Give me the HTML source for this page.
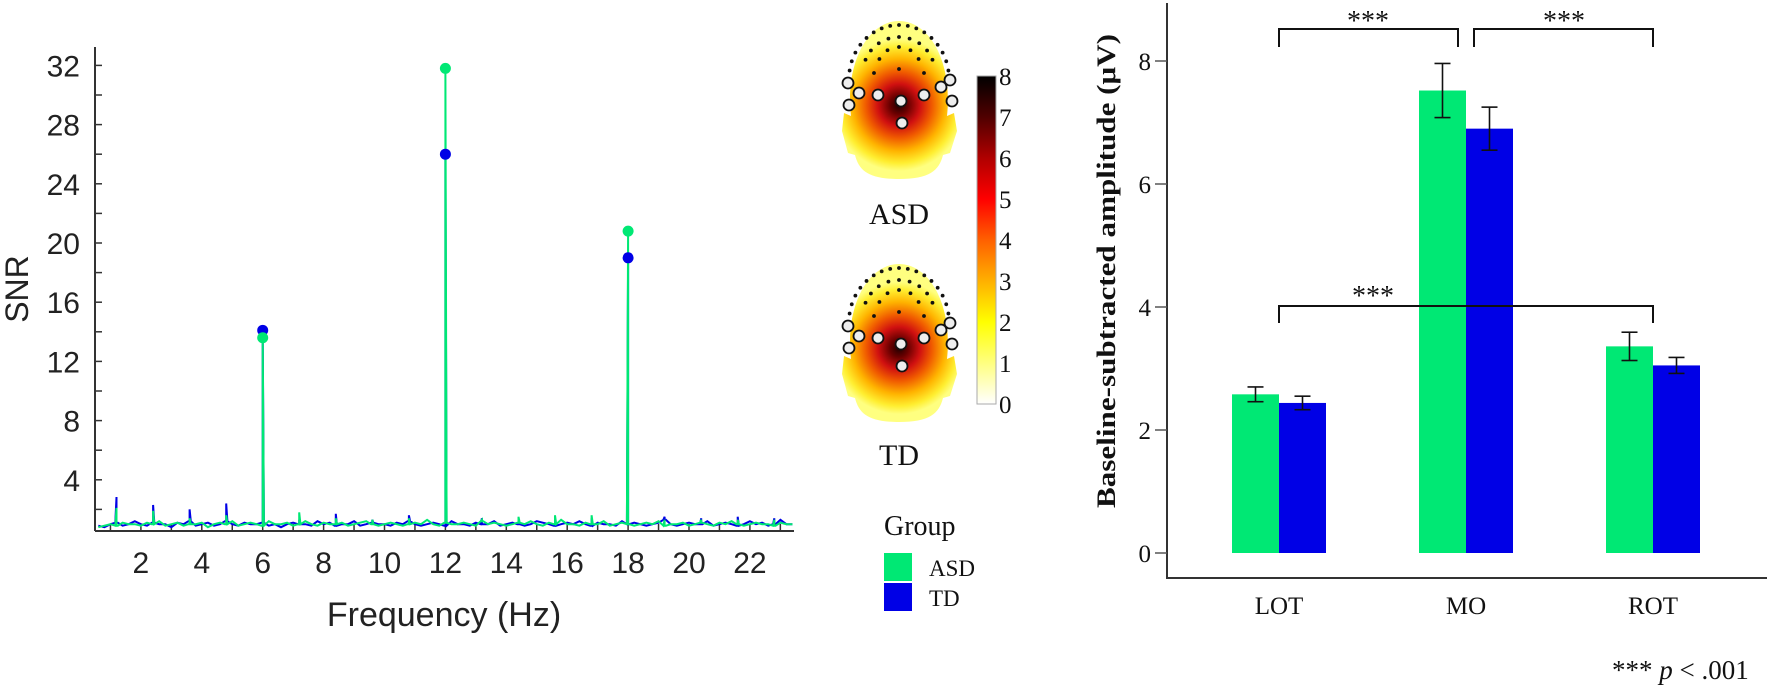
<!DOCTYPE html>
<html><head><meta charset="utf-8"><style>
html,body{margin:0;padding:0;background:#fff;}
svg{display:block;}
.sans{font-family:"Liberation Sans",Arial,sans-serif;}
.serif{font-family:"Liberation Serif","DejaVu Serif",serif;}
</style></head><body>
<svg id="fig" width="1772" height="686" viewBox="0 0 1772 686" xmlns="http://www.w3.org/2000/svg">
<defs>
<radialGradient id="headGrad" cx="60" cy="84" r="66" gradientUnits="userSpaceOnUse">
<stop offset="0" stop-color="#200000"/>
<stop offset="0.14" stop-color="#6a0000"/>
<stop offset="0.32" stop-color="#d01010"/>
<stop offset="0.5" stop-color="#f05a00"/>
<stop offset="0.7" stop-color="#ffb400"/>
<stop offset="0.88" stop-color="#ffee30"/>
<stop offset="1" stop-color="#ffff80"/>
</radialGradient>
<linearGradient id="cbGrad" x1="0" y1="1" x2="0" y2="0">
<stop offset="0" stop-color="#ffffff"/>
<stop offset="0.125" stop-color="#ffff80"/>
<stop offset="0.25" stop-color="#ffff00"/>
<stop offset="0.375" stop-color="#ffb000"/>
<stop offset="0.5" stop-color="#ff6000"/>
<stop offset="0.625" stop-color="#ff0000"/>
<stop offset="0.75" stop-color="#b00000"/>
<stop offset="0.875" stop-color="#500000"/>
<stop offset="1" stop-color="#000000"/>
</linearGradient>
</defs>
<g id="left"></g>
<g id="topo"></g>
<g id="right"></g>
</svg>
<script>
// ---------- Left chart data ----------
const noiseStart = 0.6, noiseStep = 0.2;
const asdNoise = [0.8,0.9,1.0,0.9,1.1,1.0,1.0,0.9,1.1,1.0,1.2,0.9,1.0,1.1,0.9,1.0,1.0,1.1,0.8,1.0,1.1,1.0,1.2,0.9,1.0,1.1,1.0,0.9,1.2,1.0,1.0,1.1,0.9,1.0,1.2,1.0,0.9,1.1,1.0,1.0,1.1,0.9,1.0,1.1,1.2,1.0,0.9,1.0,1.1,1.0,0.9,1.0,1.1,1.0,1.3,1.0,0.9,1.1,1.0,1.0,1.1,1.0,0.9,1.2,1.0,1.1,1.0,0.9,1.0,1.1,1.0,1.2,1.0,0.9,1.1,1.0,1.3,1.0,1.0,0.9,1.1,1.0,1.0,1.2,0.9,1.0,1.1,1.0,0.9,1.0,1.1,1.0,1.2,0.9,1.0,1.0,1.1,0.9,1.0,1.1,1.0,0.9,1.1,1.0,1.2,1.0,0.9,1.0,1.1,1.0,1.0,0.9,1.1,1.0,1.0];
const tdNoise = [0.9,0.8,1.0,1.1,0.9,1.0,1.2,1.0,0.9,1.1,1.0,1.0,0.8,1.1,1.0,1.2,0.9,1.0,1.1,0.9,1.0,1.2,1.0,0.9,1.1,1.0,1.0,1.1,0.9,1.0,0.8,1.0,1.1,1.0,1.0,0.9,1.2,1.0,1.1,0.9,1.0,1.0,1.2,0.9,1.0,1.1,1.0,1.0,0.9,1.1,1.0,1.2,1.0,0.9,1.0,1.1,1.0,0.9,1.2,1.0,1.0,0.9,1.1,1.0,1.0,1.2,0.9,1.0,1.1,1.0,0.9,1.0,1.2,1.1,1.0,0.9,1.0,1.1,1.0,1.2,1.0,0.9,1.1,1.0,1.0,0.9,1.2,1.0,1.1,1.0,0.9,1.0,1.1,1.3,1.0,0.9,1.0,1.1,1.0,1.0,1.2,0.9,1.0,1.1,1.0,0.9,1.0,1.2,1.0,1.1,0.9,1.0,1.3,1.0,1.0];
const harmFreqs = [1.2,2.4,3.6,4.8,6.0,7.2,8.4,9.6,10.8,12.0,13.2,14.4,15.6,16.8,18.0,19.2,20.4,21.6,22.8];
const asdHarm = [2.1,1.9,1.4,1.6,13.6,1.8,1.4,1.3,1.4,31.8,1.3,1.5,1.6,1.6,20.8,1.3,1.3,1.3,1.3];
const tdHarm  = [2.84,2.3,2.0,2.4,14.1,1.3,1.7,1.3,1.6,26.0,1.4,1.3,1.3,1.4,19.0,1.5,1.4,1.5,1.4];
const markerFreqs = [6,12,18];
const xTickLabels = [2,4,6,8,10,12,14,16,18,20,22];
const yTickLabels = [4,8,12,16,20,24,28,32];

// ---------- Right chart data ----------
const regions = ['LOT','MO','ROT'];
const asdMeans = [2.58,7.52,3.36];
const asdErr = [0.12,0.44,0.23];
const tdMeans = [2.44,6.90,3.05];
const tdErr = [0.11,0.35,0.13];
const ampTicks = [0,2,4,6,8];
const colorbarTicks = [0,1,2,3,4,5,6,7,8];

const NS='http://www.w3.org/2000/svg';
function mk(tag, attrs, parent, text){
  const e=document.createElementNS(NS,tag);
  for(const k in attrs) e.setAttribute(k,attrs[k]);
  if(text!==undefined) e.textContent=text;
  parent.appendChild(e); return e;
}
const GREEN='#00e874', BLUE='#0000e6';

// ===== Left chart =====
(function(){
  const g=document.getElementById('left');
  const fx=f=>80+30.45*f;
  const fy=v=>539-14.8*v;
  const x0=95, x1=794, yb=531, yt=47;
  let e;
  e=mk('line',{x1:x0,y1:yt,x2:x0,y2:yb,stroke:'#333','stroke-width':2},g);
  
  
  e=mk('line',{x1:x0,y1:yb,x2:x1,y2:yb,stroke:'#333','stroke-width':2},g);
  
  
  for(let v=2; v<=32; v+=2){
    e=mk('line',{x1:x0,y1:fy(v),x2:x0+7,y2:fy(v),stroke:'#333','stroke-width':1.5},g);
    
    
  }
  yTickLabels.forEach(v=>{
    e=mk('text',{x:80,y:fy(v)+11,'text-anchor':'end','font-size':30,class:'sans',fill:'#222'},g,String(v));
    
    
  });
  for(let f=1; f<=23; f++){
    e=mk('line',{x1:fx(f),y1:yb,x2:fx(f),y2:yb-7,stroke:'#333','stroke-width':1.5},g);
    
    
  }
  xTickLabels.forEach(v=>{
    e=mk('text',{x:fx(v),y:573,'text-anchor':'middle','font-size':30,class:'sans',fill:'#222'},g,String(v));
    
    
  });
  e=mk('text',{x:444,y:626,'text-anchor':'middle','font-size':34,class:'sans',fill:'#222'},g,'Frequency (Hz)');
  
  
  e=mk('text',{x:0,y:0,'text-anchor':'middle','font-size':32,class:'sans',fill:'#222',transform:'translate(28,289) rotate(-90)'},g,'SNR');
  
  

  function series(noise, harm, color, name){
    const pts=[];
    noise.forEach((v,i)=>pts.push([noiseStart+i*noiseStep, v]));
    harmFreqs.forEach((f,i)=>{
      pts.push([f-0.04, noise[Math.round((f-noiseStart)/noiseStep)]||1]);
      pts.push([f, harm[i]]);
      pts.push([f+0.04, noise[Math.round((f-noiseStart)/noiseStep)]||1]);
    });
    pts.sort((a,b)=>a[0]-b[0]);
    const d=pts.map((p,i)=>(i?'L':'M')+fx(p[0]).toFixed(1)+' '+fy(p[1]).toFixed(1)).join(' ');
    const p=mk('path',{d:d,fill:'none',stroke:color,'stroke-width':2},g);
    
    
  }
  series(tdNoise, tdHarm, BLUE, 'td-snr-line');
  series(asdNoise, asdHarm, GREEN, 'asd-snr-line');
  markerFreqs.forEach(f=>{
    const i=harmFreqs.indexOf(f);
    let c=mk('circle',{cx:fx(f),cy:fy(tdHarm[i]),r:5.5,fill:BLUE},g);
    
    
    c=mk('circle',{cx:fx(f),cy:fy(asdHarm[i]),r:5.5,fill:GREEN},g);
    
    
  });
})();

// ===== Topomaps, colorbar, legend =====
(function(){
  const g=document.getElementById('topo');
  const headD='M 12 95 C 6 40, 30 0, 60 0 C 90 0, 114 40, 108 95 L 115 92 L 118 110 L 111 132 L 104 134 C 100 150, 90 158, 60 158 C 30 158, 20 150, 16 134 L 9 132 L 3 110 L 5 92 Z';
  const big=[[9,62],[20,72],[39,74],[62,80],[85,74],[102,66],[111,59],[113,80],[10,84],[63,102]];
  function head(tx,ty,label,ly,name){
    const hg=mk('g',{transform:'translate('+tx+','+ty+')'},g);
    
    
    mk('path',{d:headD,fill:'url(#headGrad)'},hg);
    for(let k=0;k<=16;k++){
      const a=Math.PI*(0.05+0.9*k/16);
      mk('circle',{cx:60-50*Math.cos(a),cy:58-54*Math.sin(a),r:1.9,fill:'#111'},hg);
    }
    for(let k=0;k<=8;k++){
      const a=Math.PI*(0.12+0.76*k/8);
      mk('circle',{cx:60-36*Math.cos(a),cy:52-36*Math.sin(a),r:1.9,fill:'#111'},hg);
    }
    for(let k=0;k<=4;k++){
      const a=Math.PI*(0.15+0.7*k/4);
      mk('circle',{cx:60-22*Math.cos(a),cy:48-22*Math.sin(a),r:1.9,fill:'#111'},hg);
    }
    [[35,52],[60,48],[85,52]].forEach(p=>mk('circle',{cx:p[0],cy:p[1],r:1.9,fill:'#111'},hg));
    big.forEach(p=>mk('circle',{cx:p[0],cy:p[1],r:5.5,fill:'#eee',stroke:'#111','stroke-width':1.8},hg));
    const t=mk('text',{x:tx+60,y:ly,'text-anchor':'middle','font-size':30,class:'serif',fill:'#111'},g,label);
    
    
  }
  head(839,21,'ASD',224,'asd-topomap');
  head(839,264,'TD',465,'td-topomap');

  let e=mk('rect',{x:977,y:76,width:19,height:328,fill:'url(#cbGrad)',stroke:'#aaa','stroke-width':1},g);
  
  
  colorbarTicks.forEach(v=>{
    const y=404-v*41;
    e=mk('text',{x:999,y:y+9,'font-size':25,class:'serif',fill:'#111'},g,String(v));
    
    
  });

  e=mk('text',{x:884,y:535,'font-size':28,class:'serif',fill:'#111'},g,'Group');
  
  
  e=mk('rect',{x:884,y:553,width:28,height:28,fill:GREEN},g);
  
  
  e=mk('rect',{x:884,y:583,width:28,height:28,fill:BLUE},g);
  
  
  e=mk('text',{x:929,y:576,'font-size':23,class:'serif',fill:'#111'},g,'ASD');
  
  
  e=mk('text',{x:929,y:606,'font-size':23,class:'serif',fill:'#111'},g,'TD');
  
  
})();

// ===== Right chart =====
(function(){
  const g=document.getElementById('right');
  const cx=i=>1279+187*i;
  const vy=v=>553-61.5*v;
  const bw=47;
  let e;
  e=mk('line',{x1:1167,y1:3,x2:1167,y2:579,stroke:'#333','stroke-width':2},g);
  
  
  e=mk('line',{x1:1166,y1:578,x2:1767,y2:578,stroke:'#333','stroke-width':2},g);
  
  
  ampTicks.forEach(v=>{
    e=mk('line',{x1:1155,y1:vy(v),x2:1167,y2:vy(v),stroke:'#555','stroke-width':1.5},g);
    
    
    e=mk('text',{x:1151,y:vy(v)+9,'text-anchor':'end','font-size':25,class:'serif',fill:'#111'},g,String(v));
    
    
  });
  e=mk('text',{x:0,y:0,'text-anchor':'middle','font-size':26,'font-weight':'bold',class:'serif',fill:'#111',textLength:474,lengthAdjust:'spacingAndGlyphs',transform:'translate(1115,271) rotate(-90)'},g,'Baseline-subtracted amplitude (μV)');
  
  
  regions.forEach((r,i)=>{
    const c=cx(i);
    e=mk('rect',{x:c-bw,y:vy(asdMeans[i]),width:bw,height:vy(0)-vy(asdMeans[i]),fill:GREEN},g);
    
    
    e=mk('rect',{x:c,y:vy(tdMeans[i]),width:bw,height:vy(0)-vy(tdMeans[i]),fill:BLUE},g);
    
    
    [[c-bw/2,asdMeans[i],asdErr[i],'asd'],[c+bw/2,tdMeans[i],tdErr[i],'td']].forEach(q=>{
      const eg=mk('g',{stroke:'#111','stroke-width':1.6},g);
      
      
      const yt=vy(q[1]+q[2]), yb=vy(q[1]-q[2]);
      mk('line',{x1:q[0],y1:yt,x2:q[0],y2:yb},eg);
      mk('line',{x1:q[0]-8,y1:yt,x2:q[0]+8,y2:yt},eg);
      mk('line',{x1:q[0]-8,y1:yb,x2:q[0]+8,y2:yb},eg);
    });
    e=mk('text',{x:c,y:614,'text-anchor':'middle','font-size':25,class:'serif',fill:'#111'},g,r);
    
    
  });
  function bracket(xa,xb,y,yd,sx,sy,name){
    const bg=mk('g',{},g);
    
    
    mk('path',{d:'M'+xa+' '+yd+' L'+xa+' '+y+' L'+xb+' '+y+' L'+xb+' '+yd,fill:'none',stroke:'#111','stroke-width':2},bg);
    mk('text',{x:sx,y:sy,'text-anchor':'middle','font-size':28,class:'serif',fill:'#111'},bg,'***');
  }
  bracket(cx(0),1458,29,47,1368,30,'significance-bracket-lot-mo');
  bracket(1474,cx(2),29,47,1564,30,'significance-bracket-mo-rot');
  bracket(cx(0),cx(2),306,323,1373,305,'significance-bracket-lot-rot');
  const n=mk('text',{x:1612,y:679,'font-size':27,class:'serif',fill:'#111'},g);
  
  
  mk('tspan',{},n,'*** ');
  mk('tspan',{'font-style':'italic'},n,'p');
  mk('tspan',{},n,' < .001');
})();
</script>
</body></html>
